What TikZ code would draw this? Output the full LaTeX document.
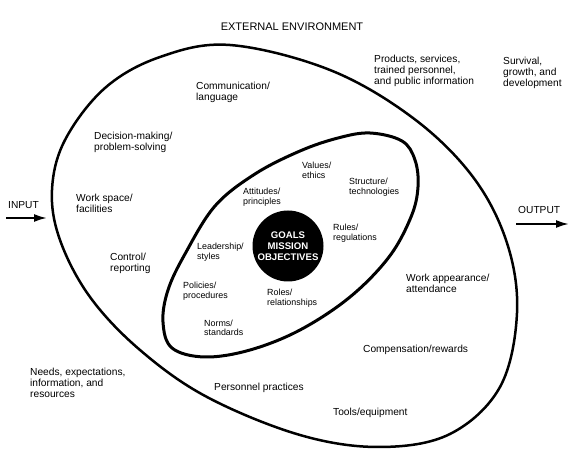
\documentclass[tikz,border=0pt]{standalone}
\usepackage{fontspec}
\setmainfont{Liberation Sans}
\usepackage{tikz}
\usetikzlibrary{arrows.meta}
\tikzstyle{ring}		= [draw=black, line width=2.5pt]
\tikzstyle{core}		= [draw=black, line width=3pt]
\tikzstyle{goals}		= [circle, fill=black, minimum size=71pt, inner sep=0pt, text=white, align=center, font=\fontsize{9.6}{11}\selectfont\bfseries]
\tikzstyle{factor}		= [anchor=west, align=left, inner sep=0pt, font=\fontsize{10.2}{10.8}\selectfont]
\tikzstyle{subfactor}	= [anchor=west, align=left, inner sep=0pt, font=\fontsize{8.9}{9.6}\selectfont]
\tikzstyle{envtitle}	= [inner sep=0pt, font=\fontsize{11}{12}\selectfont]
\tikzstyle{flow}		= [draw, line width=2pt, -{Latex[length=13pt,width=8pt]}]

\begin{document}
\begin{tikzpicture}[x=1pt, y=-1pt]
		\useasboundingbox (0,0) rectangle (574,465);
		
		%%%%% Organisation (outer) and culture (inner)
		\draw[ring] plot[smooth cycle, tension=0.6] coordinates {(230,45) (330,70) (413,118) (473,177) (507,243) (517,313) (500,387) (450,434) (380,447) (300,435) (207,397) (140,350) (90,297) (60,240) (52,190) (65,140) (105,88) (160,57)};
		\draw[core] plot[smooth cycle, tension=0.6] coordinates {(370,133) (402,141) (415,160) (418,187) (411,217) (389,257) (350,297) (300,330) (250,350) (205,357) (172,348) (163,322) (168,290) (185,254) (215,206) (255,174) (300,151) (338,138)};
		
		\node[goals] (goals) at (288,246) {GOALS\\MISSION\\OBJECTIVES};
		
		\node[envtitle] (env) at (292,27) {EXTERNAL ENVIRONMENT};
		
		%%%%% Inner factors
		\foreach \pos/\name/\txt in {{(302,170.5)/values/{Values/\\ethics}}, {(349,187.5)/struct/{Structure/\\technologies}}, {(243,197.5)/attit/{Attitudes/\\principles}}, {(333,233.5)/rules/{Rules/\\regulations}}, {(197,252)/lead/{Leadership/\\styles}}, {(183,291.5)/policy/{Policies/\\procedures}}, {(267,298)/roles/{Roles/\\relationships}}, {(204,328)/norms/{Norms/\\standards}}}
		\node[subfactor] (\name) at \pos {\txt};
		
		%%%%% Outer factors
		\foreach \pos/\name/\txt in {{(196,92)/comm/{Communication/\\language}}, {(94,142.5)/decide/{Decision-making/\\problem-solving}}, {(76,203.5)/space/{Work space/\\facilities}}, {(110,263)/control/{Control/\\reporting}}, {(406,283)/appear/{Work appearance/\\attendance}}, {(363,350)/comp/{Compensation/rewards}}, {(214,388)/personnel/{Personnel practices}}, {(333,412.5)/tools/{Tools/equipment}}}
		\node[factor] (\name) at \pos {\txt};
		
		%%%% Environment in / out
		\node[factor] (needs) at (30,383) {Needs, expectations,\\information, and\\resources};
		\node[factor] (products) at (374,71) {Products, services,\\trained personnel,\\and public information};
		\node[factor] (survival) at (503,73) {Survival,\\growth, and\\development};
		
		\node[factor] (input) at (8,205) {INPUT};
		\node[factor] (output) at (518,210) {OUTPUT};
		\coordinate (inA) at (6,218);
		\coordinate (inB) at (47,218);
		\coordinate (outA) at (516,224);
		\coordinate (outB) at (569,224);
		\foreach \source/ \dest in {inA/inB,outA/outB}	\path[flow] (\source) -- (\dest) ;
\end{tikzpicture}
\end{document}
